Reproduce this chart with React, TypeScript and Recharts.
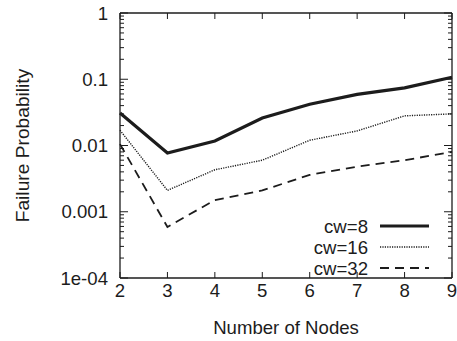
import React from 'react';
import { LineChart, Line, XAxis, YAxis, Legend } from 'recharts';

const nodes = [2, 3, 4, 5, 6, 7, 8, 9];
const cw8 = [0.031, 0.0077, 0.0117, 0.026, 0.042, 0.059, 0.074, 0.107];
const cw16 = [0.017, 0.0021, 0.0043, 0.006, 0.012, 0.0166, 0.028, 0.03];
const cw32 = [0.0105, 0.00059, 0.0015, 0.0021, 0.0036, 0.0048, 0.006, 0.008];
const seriesKeys = ['cw8', 'cw16', 'cw32'];
const seriesNames = ['cw=8', 'cw=16', 'cw=32'];
const yMajorTicks = [0.0001, 0.001, 0.01, 0.1, 1];
const yTickLabels = ['1e-04', '0.001', '0.01', '0.1', '1'];
const minorMultipliers = [2, 3, 4, 5, 6, 7, 8, 9];
const xTicks = [2, 3, 4, 5, 6, 7, 8, 9];

const data = nodes.map((n, i) => ({ n, cw8: cw8[i], cw16: cw16[i], cw32: cw32[i] }));

const yAllTicks: number[] = [];
yMajorTicks.forEach((v, i) => {
  yAllTicks.push(v);
  if (i < yMajorTicks.length - 1) minorMultipliers.forEach((m) => yAllTicks.push(m * v));
});

const FONT = '"Liberation Sans", Arial, Helvetica, sans-serif';
const INK = '#1c1c1c';
const FS = 18.6;
const lineStyles = [
  { strokeWidth: 3.2, strokeDasharray: undefined as string | undefined },
  { strokeWidth: 1.4, strokeDasharray: '1.2 1.2' },
  { strokeWidth: 1.8, strokeDasharray: '9 6' },
];

const majorIdx = (v: number) => yMajorTicks.findIndex((m) => Math.abs(m - v) / m < 1e-6);

const LEFT_MARGIN = 12;
const LeftTick = (props: any) => {
  const { x, y, payload } = props;
  const idx = majorIdx(payload.value);
  const ax = x + LEFT_MARGIN;
  const len = idx >= 0 ? 8 : 4;
  return (
    <g>
      <line x1={ax} x2={ax + len} y1={y} y2={y} stroke={INK} strokeWidth={1} />
      {idx >= 0 && (
        <text x={x} y={y} dy="0.36em" textAnchor="end" fontFamily={FONT} fontSize={FS} fill={INK}>
          {yTickLabels[idx]}
        </text>
      )}
    </g>
  );
};

const RightTick = (props: any) => {
  const { x, y, payload } = props;
  const idx = majorIdx(payload.value);
  const len = idx >= 0 ? 8 : 4;
  return <line x1={x} x2={x - len} y1={y} y2={y} stroke={INK} strokeWidth={1} />;
};

const BottomTick = (props: any) => {
  const { x, y, payload } = props;
  return (
    <g>
      <line x1={x} x2={x} y1={y} y2={y - 6} stroke={INK} strokeWidth={1} />
      <text x={x} y={y + 19} textAnchor="middle" fontFamily={FONT} fontSize={FS} fill={INK}>
        {payload.value}
      </text>
    </g>
  );
};

const TopTick = (props: any) => {
  const { x, y } = props;
  return <line x1={x} x2={x} y1={y} y2={y + 6} stroke={INK} strokeWidth={1} />;
};

const YLabel = (props: any) => {
  const vb = props.viewBox || {};
  const cx = (vb.x || 0) + 22;
  const cy = (vb.y || 0) + (vb.height || 0) / 2;
  return (
    <text x={cx} y={cy} dy="0.36em" textAnchor="middle" transform={`rotate(-90 ${cx} ${cy})`} fontFamily={FONT} fontSize={19.2} fill={INK}>
      Failure Probability
    </text>
  );
};

const XLabel = (props: any) => {
  const vb = props.viewBox || {};
  const cx = (vb.x || 0) + (vb.width || 0) / 2;
  const cy = (vb.y || 0) + 56;
  return (
    <text x={cx} y={cy} textAnchor="middle" fontFamily={FONT} fontSize={FS} fill={INK}>
      Number of Nodes
    </text>
  );
};

const LegendContent = () => (
  <svg width={160} height={72} style={{ display: 'block', overflow: 'visible' }}>
    {seriesNames.map((name, i) => (
      <g key={name}>
        <text x={78} y={11 + i * 21} dy="0.36em" textAnchor="end" fontFamily={FONT} fontSize={FS} fill={INK}>
          {name}
        </text>
        <line
          x1={90}
          x2={139}
          y1={11 + i * 21}
          y2={11 + i * 21}
          stroke={INK}
          strokeWidth={lineStyles[i].strokeWidth}
          strokeDasharray={lineStyles[i].strokeDasharray}
        />
      </g>
    ))}
  </svg>
);

export default function App() {
  return (
    <div style={{ position: 'absolute', left: 0, top: 0, width: 457, height: 341, background: '#fff' }}>
      <LineChart width={457} height={341} data={data} margin={{ top: 0, right: 0, bottom: 0, left: 0 }}>
        <XAxis
          xAxisId={0}
          dataKey="n"
          type="number"
          domain={[2, 9]}
          ticks={xTicks}
          interval={0}
          height={63}
          tickSize={0}
          tickMargin={0}
          tick={<BottomTick />}
          axisLine={{ stroke: INK, strokeWidth: 1.3 }}
          label={<XLabel />}
        />
        <XAxis
          xAxisId="top"
          orientation="top"
          dataKey="n"
          type="number"
          domain={[2, 9]}
          ticks={xTicks}
          interval={0}
          height={13}
          tickSize={0}
          tickMargin={0}
          tick={<TopTick />}
          axisLine={{ stroke: INK, strokeWidth: 1.3 }}
        />
        <YAxis
          yAxisId={0}
          type="number"
          scale="log"
          domain={[0.0001, 1]}
          ticks={yAllTicks}
          interval={0}
          width={120}
          tickSize={0}
          tickMargin={LEFT_MARGIN}
          tick={<LeftTick />}
          axisLine={{ stroke: INK, strokeWidth: 1.3 }}
          allowDataOverflow
          label={<YLabel />}
        />
        <YAxis
          yAxisId="right"
          orientation="right"
          type="number"
          scale="log"
          domain={[0.0001, 1]}
          ticks={yAllTicks}
          interval={0}
          width={5}
          tickSize={0}
          tickMargin={0}
          tick={<RightTick />}
          axisLine={{ stroke: INK, strokeWidth: 1.3 }}
          allowDataOverflow
        />
        <Legend
          layout="vertical"
          align="center"
          verticalAlign="middle"
          content={<LegendContent />}
          wrapperStyle={{ left: 290, top: 215, width: 160, height: 72 }}
        />
        {seriesKeys.map((k, i) => (
          <Line
            key={k}
            xAxisId={0}
            yAxisId={0}
            dataKey={k}
            name={seriesNames[i]}
            type="linear"
            stroke={INK}
            strokeWidth={lineStyles[i].strokeWidth}
            strokeDasharray={lineStyles[i].strokeDasharray}
            dot={false}
            activeDot={false}
            isAnimationActive={false}
          />
        ))}
      </LineChart>
    </div>
  );
}
